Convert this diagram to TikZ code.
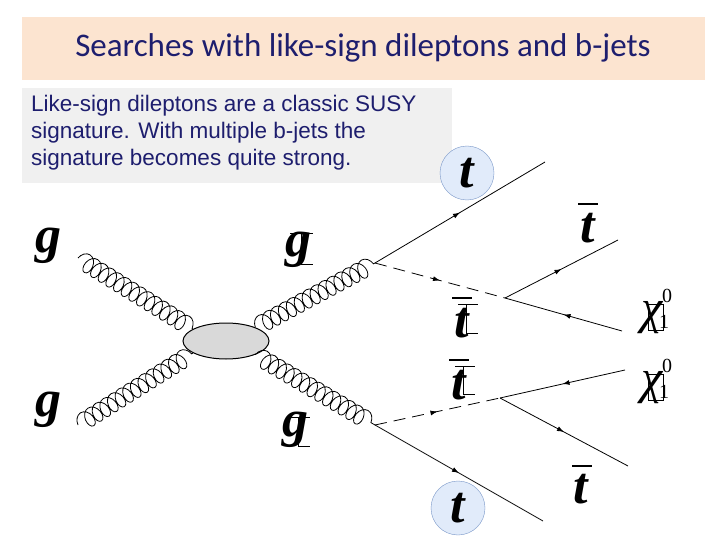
\documentclass[tikz,border=0pt]{standalone}
\usepackage{fontspec}
\setmainfont{Liberation Serif}
\newfontfamily\titlefont{Carlito}
\newfontfamily\bodyfont{Liberation Sans}
\newfontfamily\greekfont{Liberation Serif}
\usetikzlibrary{decorations.pathmorphing,decorations.markings,arrows.meta,shapes.geometric}
\definecolor{navy}{RGB}{30,30,110}
\definecolor{peach}{RGB}{252,228,208}
\definecolor{circfill}{RGB}{225,235,250}
\definecolor{circline}{RGB}{120,150,200}
\tikzset{
  gluon/.style={decorate,decoration={coil,amplitude=9pt,segment length=9pt,aspect=0.7},line width=0.8pt},
  fermion/.style={line width=0.8pt,postaction={decorate},decoration={markings,mark=at position 0.5 with {\arrow{Latex[length=7pt,width=5pt]}}}},
  scalar/.style={fermion,dash pattern=on 12pt off 7pt},
  lab/.style={font=\fontsize{52}{52}\selectfont\itshape\bfseries,inner sep=0pt},
  circ/.style={circle,draw=circline,fill=circfill,minimum size=54pt,inner sep=0pt},
}
\begin{document}
\begin{tikzpicture}[x=1pt,y=-1pt]
\useasboundingbox (0,0) rectangle (720,540);
\fill[white] (0,0) rectangle (720,540);
\node[fill=peach,minimum width=683pt,minimum height=63pt,anchor=north west,inner sep=0pt] (title) at (22,17) {};
\node[text=navy,font=\titlefont\fontsize{33}{33}\selectfont] (tt) at (363,48) {Searches with like-sign dileptons and b-jets};
\node[fill=black!6,minimum width=430pt,minimum height=95pt,anchor=north west,inner sep=0pt] (tbox) at (22,88) {};
\node[text=navy,font=\bodyfont\fontsize{22.5}{27}\selectfont,align=left,anchor=north west,inner sep=0pt] (txt) at (31,95) {Like-sign dileptons are a classic SUSY\\signature. With multiple b-jets the\\signature becomes quite strong.};
% circles
\node[circ] (c1) at (467,173) {};
\node[circ] (c2) at (458,508) {};
% blob
\node[ellipse,draw,line width=1pt,fill=black!15,minimum width=86pt,minimum height=36pt,inner sep=0pt] (blob) at (226,341) {};
\coordinate (gi1) at (78,258); \coordinate (gi2) at (78,425);
\coordinate (v1) at (375,263); \coordinate (v2) at (375,425);
\coordinate (s1) at (505,298); \coordinate (s2) at (500,398);
\coordinate (t1) at (545,162); \coordinate (t2) at (543,521);
\coordinate (tb1) at (618,240); \coordinate (tb2) at (628,466);
\coordinate (x1) at (622,331); \coordinate (x2) at (625,370);
\draw[gluon] (gi1) -- (blob.160);
\draw[gluon] (gi2) -- (blob.200);
\draw[gluon] (blob.25) -- (v1);
\draw[gluon] (blob.335) -- (v2);
\draw[fermion] (v1) -- (t1);
\draw[fermion] (v2) -- (t2);
\draw[scalar] (v1) -- (s1);
\draw[scalar] (v2) -- (s2);
\draw[fermion] (s1) -- (tb1);
\draw[fermion] (x1) -- (s1);
\draw[fermion] (x2) -- (s2);
\draw[fermion] (s2) -- (tb2);
% labels
\node[lab] (lg1) at (48,246) {g};
\node[lab] (lg2) at (48,410) {g};
\node[lab] (lg3) at (298,250) {g};
\node[lab] (lg4) at (295,430) {g};
\draw[line width=0.6pt] (290,233) -- (313,233) (301,233) -- (301,264) -- (313,264);
\draw[line width=0.6pt] (287,417) -- (310,417) (298,417) -- (298,446) -- (310,446);
\node[lab] (lt1) at (c1) {t};
\node[lab] (lt2) at (c2) {t};
\node[lab] (ltb1) at (588,228) {t};
\draw[line width=1.2pt] (578,204) -- (598,204);
\node[lab] (ltb2) at (581,489) {t};
\draw[line width=1.2pt] (572,466) -- (592,466);
\node[lab] (ltb3) at (462,323) {t};
\draw[line width=1.2pt] (452,298) -- (472,298);
\draw[line width=0.6pt] (458,304) -- (478,304) (466,304) -- (466,333) -- (478,333);
\node[lab] (ltb4) at (459,385) {t};
\draw[line width=1.2pt] (449,360) -- (469,360);
\draw[line width=0.6pt] (455,366) -- (475,366) (463,366) -- (463,394) -- (475,394);
\node[font=\greekfont\fontsize{48}{48}\selectfont\itshape,inner sep=0pt] (lx1) at (652,318) {χ};
\node[font=\fontsize{20}{20}\selectfont] (lx1s) at (667,296) {0};
\node[font=\fontsize{20}{20}\selectfont] (lx1i) at (664,322) {1};
\draw[line width=0.6pt] (648,304) rectangle (663,330);
\node[font=\greekfont\fontsize{48}{48}\selectfont\itshape,inner sep=0pt] (lx2) at (652,388) {χ};
\node[font=\fontsize{20}{20}\selectfont] (lx2s) at (667,366) {0};
\node[font=\fontsize{20}{20}\selectfont] (lx2i) at (664,392) {1};
\draw[line width=0.6pt] (648,374) rectangle (663,400);
\end{tikzpicture}
\end{document}
